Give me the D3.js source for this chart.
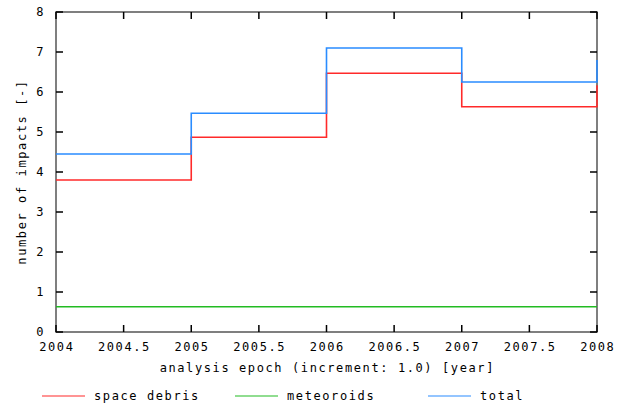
<!DOCTYPE html>
<html lang="en">
  <head>
    <meta charset="UTF-8" />
    <title>Impacts per epoch</title>
    <style>
      body { margin: 0; background: #fff; }
      text { font-family: "DejaVu Sans Mono", monospace; font-size: 12px; letter-spacing: 1.6px; fill: #000; }
    </style>
  </head>
  <body>
    <div id="chart"></div>
    <script src="https://cdn.jsdelivr.net/npm/d3@7"></script>
    <script>
    // analysis epochs (years)
    var epochs = [2004, 2005, 2006, 2007, 2008];
    var spaceDebris = [3.8, 4.87, 6.47, 5.63, 6.17];
    var meteoroids = [0.63, 0.63, 0.63, 0.63, 0.63];
    var total = [4.45, 5.47, 7.1, 6.25, 6.8];
    var xTicks = [2004, 2004.5, 2005, 2005.5, 2006, 2006.5, 2007, 2007.5, 2008];
    var yTicks = [0, 1, 2, 3, 4, 5, 6, 7, 8];
    var seriesNames = ["space debris", "meteoroids", "total"];
    var seriesColors = ["#ff2a2a", "#22bb22", "#2a8cff"];

    var width = 626, height = 406;
    var margin = {top: 12, right: 29, bottom: 74, left: 56};
    var w = width - margin.left - margin.right;
    var h = height - margin.top - margin.bottom;

    var svg = d3.select("#chart")
                .append("svg")
                .attr("width", width)
                .attr("height", height);
    var g = svg.append("g")
               .attr("transform", "translate(" + margin.left + "," + margin.top + ")");

    var x = d3.scaleLinear().domain([2004, 2008]).range([0, w]);
    var y = d3.scaleLinear().domain([0, 8]).range([h, 0]);

    // border
    g.append("rect")
     .attr("width", w)
     .attr("height", h)
     .attr("fill", "none")
     .attr("stroke", "#555")
     .attr("stroke-width", 1.5);

    // ticks, pointing inward, on all four sides
    var tickLen = 7;
    g.selectAll(".xt")
     .data(xTicks)
     .enter()
     .append("path")
     .attr("d", function(d){
       return "M" + x(d) + "," + h + "v" + (-tickLen) + "M" + x(d) + ",0v" + tickLen;
     })
     .attr("stroke", "#000")
     .attr("stroke-width", 1.5);
    g.selectAll(".yt")
     .data(yTicks)
     .enter()
     .append("path")
     .attr("d", function(d){
       return "M0," + y(d) + "h" + tickLen + "M" + w + "," + y(d) + "h" + (-tickLen);
     })
     .attr("stroke", "#000")
     .attr("stroke-width", 1.5);

    g.selectAll(".xl")
     .data(xTicks)
     .enter()
     .append("text")
     .attr("x", function(d){ return x(d) + 0.8; })
     .attr("y", h + 19)
     .attr("text-anchor", "middle")
     .text(function(d){ return d; });
    g.selectAll(".yl")
     .data(yTicks)
     .enter()
     .append("text")
     .attr("x", -11)
     .attr("y", function(d){ return y(d); })
     .attr("dy", "0.35em")
     .attr("text-anchor", "end")
     .text(function(d){ return d; });

    // step lines (drawn over the border, like the original)
    var all = [spaceDebris, meteoroids, total];
    var line = d3.line()
                 .x(function(d, i){ return x(epochs[i]); })
                 .y(function(d){ return y(d); })
                 .curve(d3.curveStepAfter);
    g.selectAll(".series")
     .data(all)
     .enter()
     .append("path")
     .attr("d", line)
     .attr("fill", "none")
     .attr("stroke", function(d, i){ return seriesColors[i]; })
     .attr("stroke-width", 1.6);

    // axis titles
    g.append("text")
     .attr("x", w / 2 + 0.8)
     .attr("y", h + 40)
     .attr("text-anchor", "middle")
     .text("analysis epoch (increment: 1.0) [year]");
    svg.append("text")
       .attr("transform", "translate(26," + (margin.top + h / 2) + ") rotate(-90)")
       .attr("text-anchor", "middle")
       .text("number of impacts [-]");

    // legend
    var legendX = [42, 235, 428];
    var legend = svg.selectAll(".legend")
                    .data(seriesNames)
                    .enter()
                    .append("g")
                    .attr("transform", function(d, i){ return "translate(" + legendX[i] + ",396)"; });
    legend.append("line")
          .attr("x1", 0)
          .attr("x2", 43)
          .attr("stroke", function(d, i){ return seriesColors[i]; })
          .attr("stroke-width", 1.2);
    legend.append("text")
          .attr("x", 52)
          .attr("dy", "0.35em")
          .text(function(d){ return d; });
    </script>
  </body>
</html>
